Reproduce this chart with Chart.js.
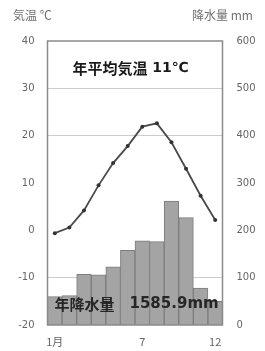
<!DOCTYPE html>
<html>
<head>
<meta charset="utf-8">
<script src="https://cdn.jsdelivr.net/npm/chart.js@4/dist/chart.umd.min.js"></script>
<style>
html,body{margin:0;padding:0;background:#fff;}
canvas{display:block;}
</style>
</head>
<body>
<canvas id="c" width="265" height="351"></canvas>
<script>
// Data
const months = ['1月','2','3','4','5','6','7','8','9','10','11','12'];
const tickLabels = ['1月','','','','','','7','','','','','12'];
const temperature = [-0.6, 0.6, 4.2, 9.5, 14.2, 17.8, 21.9, 22.6, 18.6, 13.0, 7.3, 2.2];
const precipitation = [60, 62, 107, 106, 123, 158, 178, 176, 262, 227, 78, 50];
const gridValues = [30, 20, -10];
const tempTitle = '気温 ℃';
const precTitle = '降水量 mm';
const tempNote = ['年平均気温', ' 11℃'];
const precNote = ['年降水量', '1585.9mm'];

const CJK = "'Noto Sans CJK JP', 'DejaVu Sans', sans-serif";
const NUM = "'DejaVu Sans', sans-serif";

const overlay = {
  id: 'overlay',
  afterDatasetsDraw(chart) {
    const {ctx, chartArea: a} = chart;
    ctx.save();
    // frame
    ctx.strokeStyle = '#8a8a8a';
    ctx.lineWidth = 1.5;
    ctx.strokeRect(a.left, a.top, a.right - a.left, a.bottom - a.top);
    // axis titles
    ctx.fillStyle = '#707070';
    ctx.textBaseline = 'middle';
    ctx.textAlign = 'left';
    ctx.font = "12px " + CJK;
    ctx.fillText(tempTitle, 13, 15);
    ctx.fillText(precTitle, 192, 15);
    // annual mean temperature
    ctx.fillStyle = '#1a1a1a';
    ctx.font = "bold 15px " + CJK;
    ctx.fillText(tempNote[0], a.left + 25, a.top + 27);
    let w = ctx.measureText(tempNote[0]).width;
    ctx.font = "bold 14px " + NUM;
    ctx.fillText(tempNote[1], a.left + 25 + w, a.top + 27);
    // annual precipitation
    ctx.fillStyle = '#262626';
    ctx.font = "bold 15px " + CJK;
    ctx.fillText(precNote[0], a.left + 7, a.bottom - 21);
    ctx.font = "bold 15px " + NUM;
    ctx.fillText(precNote[1], a.left + 82, a.bottom - 21);
    ctx.restore();
  }
};

new Chart(document.getElementById('c'), {
  data: {
    labels: months,
    datasets: [
      {
        type: 'line',
        data: temperature,
        yAxisID: 'y',
        borderColor: '#4a4a4a',
        borderWidth: 1.8,
        pointRadius: 2,
        pointBackgroundColor: '#333',
        pointBorderColor: '#333',
        pointBorderWidth: 0,
        tension: 0,
        order: 0
      },
      {
        type: 'bar',
        data: precipitation,
        yAxisID: 'y1',
        backgroundColor: '#a4a4a4',
        borderColor: '#7c7c7c',
        borderWidth: 1,
        categoryPercentage: 1,
        barPercentage: 1,
        order: 1
      }
    ]
  },
  options: {
    responsive: false,
    animation: false,
    devicePixelRatio: 1,
    layout: {padding: {top: 41, left: 0, right: 0, bottom: 0}},
    plugins: {legend: {display: false}, tooltip: {enabled: false}},
    scales: {
      x: {
        grid: {display: false, drawTicks: false},
        border: {display: false},
        ticks: {
          autoSkip: false, maxRotation: 0, padding: 10,
          color: '#666', font: {size: 11, family: CJK},
          callback: (v, i) => tickLabels[i]
        },
        afterFit: s => { s.height = 26; }
      },
      y: {
        position: 'left',
        min: -20, max: 40,
        grid: {
          drawTicks: false,
          color: c => gridValues.includes(c.tick.value) ? '#cccccc' : 'rgba(0,0,0,0)',
          lineWidth: 1
        },
        border: {display: false},
        ticks: {stepSize: 10, padding: 13, color: '#666', font: {size: 10, family: NUM}},
        afterFit: s => { s.width = 47.5; }
      },
      y1: {
        position: 'right',
        min: 0, max: 600,
        grid: {display: false, drawTicks: false},
        border: {display: false},
        ticks: {stepSize: 100, padding: 14, color: '#666', font: {size: 10, family: NUM}},
        afterFit: s => { s.width = 42.5; }
      }
    }
  },
  plugins: [overlay]
});
</script>
</body>
</html>
